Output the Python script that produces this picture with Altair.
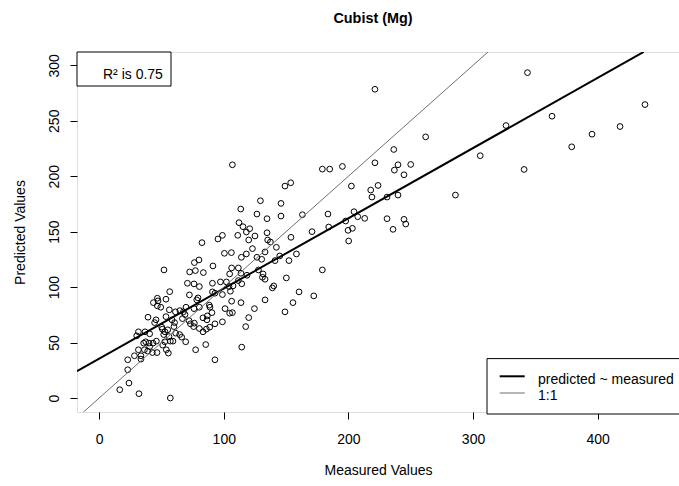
import altair as alt
import pandas as pd

# ---- data -------------------------------------------------------------
measured = [
    343.7, 363.4, 326.5, 438.0, 418.0, 395.5, 379.2, 305.8, 341.0, 221.3,
    262.0, 236.4, 179.1, 185.0, 195.2, 221.3, 236.9, 239.8, 250.0, 244.6,
    202.4, 217.9, 223.8, 218.9, 231.0, 239.8, 285.9, 163.1, 183.6, 204.5,
    207.5, 213.1, 197.8, 184.2, 170.8, 199.7, 203.2, 200.2, 231.0, 235.8,
    244.6, 246.0, 179.1, 160.4, 172.2,
    106.9, 149.1, 153.7, 129.4, 145.9, 113.6, 126.6, 134.7, 145.9, 112.2,
    115.4, 120.8, 118.1, 111.2, 120.0, 125.0, 134.7, 95.3, 98.9, 82.5,
    135.2, 137.4, 153.9, 142.2, 123.0, 118.1, 114.1, 100.5, 106.1, 126.6,
    130.4, 133.1, 144.9, 141.1, 158.3, 152.3, 91.3, 76.4, 80.1, 106.3,
    111.7, 104.7, 113.8, 127.8, 131.5, 131.0, 133.1, 150.2, 155.5, 149.1,
    140.1, 139.0, 133.1, 124.6, 120.0, 117.6, 113.8, 106.3, 98.9, 90.9,
    90.9, 97.3, 102.1, 104.2, 105.3, 114.4, 107.4, 111.7, 101.0, 104.7,
    106.9, 98.9, 118.6,
    52.0, 72.6, 77.2, 83.6, 70.8, 76.1, 80.4, 56.6, 72.4, 92.9,
    79.3, 78.3, 46.7, 47.2, 53.6, 43.5, 46.7, 49.4, 56.3, 61.2,
    64.8, 69.7, 67.6, 76.1, 80.4, 88.4, 88.9, 90.5, 86.8, 39.2,
    45.6, 44.5, 53.6, 58.4,
    68.9, 66.8, 72.1, 73.2, 76.4, 75.8, 83.3, 86.5, 92.9, 88.7,
    86.0, 31.5, 36.8, 40.5, 50.7, 52.8, 51.8, 50.2, 55.0, 56.0,
    61.4, 64.6, 66.2, 59.2, 57.1, 69.4, 83.3, 37.3, 35.7, 40.0,
    43.2, 45.9, 28.3, 31.5, 33.5, 36.3, 38.9, 42.7, 46.4, 40.5,
    53.9, 55.5, 77.4, 85.5, 114.4, 92.9, 22.9, 33.5, 22.9, 23.9,
    16.5, 31.9, 57.1, 30.1, 52.6, 51.0, 60.5, 60.0, 80.4,
]
predicted = [
    293.4, 254.1, 245.7, 264.6, 244.8, 237.9, 226.5, 218.5, 206.1, 278.4,
    235.5, 224.1, 206.4, 206.4, 208.8, 212.1, 205.5, 210.3, 210.6, 201.3,
    191.1, 187.5, 191.7, 181.2, 181.2, 183.0, 183.0, 165.3, 165.9, 168.0,
    163.5, 162.0, 159.6, 154.2, 150.0, 151.2, 153.0, 141.6, 161.7, 152.1,
    161.1, 156.9, 115.5, 95.7, 92.1,
    210.3, 191.1, 194.1, 177.9, 175.5, 170.4, 165.9, 161.7, 164.1, 158.1,
    154.5, 152.7, 149.7, 146.7, 142.5, 146.1, 149.0, 143.4, 146.7, 140.1,
    142.5, 140.7, 144.9, 135.9, 134.7, 129.9, 126.9, 130.5, 131.1, 126.9,
    125.1, 131.7, 128.1, 123.9, 129.9, 123.9, 119.1, 122.1, 124.5, 117.3,
    117.3, 111.9, 112.5, 115.5, 111.9, 108.9, 107.1, 108.3, 86.0, 77.7,
    101.1, 99.3, 88.5, 80.6, 72.5, 64.4, 86.0, 87.3, 93.3, 95.7,
    103.5, 104.7, 104.7, 100.5, 96.3, 103.0, 101.1, 105.9, 80.6, 76.5,
    77.0, 68.7, 110.7,
    115.5, 113.7, 114.9, 113.1, 103.5, 102.9, 100.5, 95.9, 93.0, 94.5,
    90.3, 88.5, 90.0, 87.6, 89.1, 86.0, 83.1, 81.9, 79.5, 77.7,
    78.8, 81.9, 77.7, 80.6, 81.9, 83.7, 81.9, 77.0, 74.1, 72.9,
    70.5, 68.0, 73.4, 70.5,
    75.3, 71.6, 69.8, 66.9, 67.5, 64.4, 72.3, 70.5, 66.9, 63.9,
    62.1, 59.7, 59.7, 57.9, 62.1, 59.7, 57.2, 63.9, 61.5, 55.4,
    58.5, 57.2, 54.9, 51.3, 51.3, 50.7, 59.7, 50.7, 49.5, 49.5,
    49.5, 51.3, 38.1, 43.5, 38.1, 43.5, 42.3, 41.0, 41.0, 46.4,
    43.5, 40.5, 43.5, 48.2, 45.9, 34.5, 34.5, 35.1, 25.5, 13.5,
    7.5, 3.9, 0.0, 56.1, 50.7, 47.7, 68.0, 64.4, 62.7,
]

# fitted line (predicted ~ measured) and 1:1 line, end points
fit_measured = [-17.8, 437.0]
fit_predicted = [24.2, 312.1]
one_to_one = [-12.6, 312.0]

x_ticks = [0, 100, 200, 300, 400]
y_ticks = [0, 50, 100, 150, 200, 250, 300]
x_domain = [-17.8, 465.3]
y_domain = [-12.6, 312.0]

series_names = ["predicted ~ measured", "1:1"]
r2_label = "R\u00b2 is 0.75"

FONT = "Liberation Sans"
W, H = 602, 360
GREY = "#6e6e6e"

pts = pd.DataFrame({"Measured": measured, "Predicted": predicted})
fit_df = pd.DataFrame({"Measured": fit_measured, "Predicted": fit_predicted})
one_df = pd.DataFrame({"Measured": one_to_one, "Predicted": one_to_one})
dummy = pd.DataFrame({"k": [0]})

xs = alt.Scale(domain=x_domain, nice=False, zero=False)
ys = alt.Scale(domain=y_domain, nice=False, zero=False)

x_axis = alt.Axis(
    values=x_ticks, title="Measured Values", grid=False, domain=False,
    tickSize=7, tickColor="black", tickWidth=1,
    labelColor="black", labelFont=FONT, labelFontSize=14, labelPadding=13,
    labelFlush=False,
    titleFont=FONT, titleFontSize=14, titleFontWeight="normal",
    titleColor="black", titlePadding=17,
)
y_axis = alt.Axis(
    values=y_ticks, title="Predicted Values", grid=False, domain=False,
    tickSize=7, tickColor="black", tickWidth=1,
    labelColor="black", labelFont=FONT, labelFontSize=14, labelPadding=9,
    labelAngle=270, labelAlign="center", labelBaseline="bottom", labelFlush=False,
    titleFont=FONT, titleFontSize=14, titleFontWeight="normal",
    titleColor="black", titlePadding=20,
)

points = alt.Chart(pts).mark_point(
    shape="circle", filled=False, size=33, strokeWidth=1, color="black",
    opacity=1, clip=True,
).encode(
    x=alt.X("Measured:Q", scale=xs, axis=x_axis),
    y=alt.Y("Predicted:Q", scale=ys, axis=y_axis),
)

fit_line = alt.Chart(fit_df).mark_line(color="black", strokeWidth=2, clip=True).encode(
    x=alt.X("Measured:Q", scale=xs), y=alt.Y("Predicted:Q", scale=ys)
)
one_line = alt.Chart(one_df).mark_line(color=GREY, strokeWidth=1, clip=True).encode(
    x=alt.X("Measured:Q", scale=xs), y=alt.Y("Predicted:Q", scale=ys)
)

# R^2 box (top left)
r2_box = alt.Chart(dummy).mark_rect(fill="white", stroke="black", strokeWidth=1).encode(
    x=alt.value(0), x2=alt.value(94), y=alt.value(0), y2=alt.value(34)
)
r2_text = alt.Chart(dummy).mark_text(
    text=r2_label, font=FONT, fontSize=14, align="left", baseline="alphabetic", color="black"
).encode(x=alt.value(26), y=alt.value(26.6))

# legend box (bottom right)
leg_box = alt.Chart(dummy).mark_rect(fill="white", stroke="black", strokeWidth=1).encode(
    x=alt.value(410), x2=alt.value(606), y=alt.value(306.6), y2=alt.value(362)
)
leg_line1 = alt.Chart(dummy).mark_rule(color="black", strokeWidth=2).encode(
    x=alt.value(422.7), x2=alt.value(447.7), y=alt.value(324.3)
)
leg_line2 = alt.Chart(dummy).mark_rule(color=GREY, strokeWidth=1).encode(
    x=alt.value(422.7), x2=alt.value(447.7), y=alt.value(341)
)
leg_text1 = alt.Chart(dummy).mark_text(
    text=series_names[0], font=FONT, fontSize=14, align="left", baseline="middle", color="black"
).encode(x=alt.value(461), y=alt.value(327.5))
leg_text2 = alt.Chart(dummy).mark_text(
    text=series_names[1], font=FONT, fontSize=14, align="left", baseline="middle", color="black"
).encode(x=alt.value(461), y=alt.value(344))

chart = alt.layer(
    points, fit_line, one_line, r2_box, r2_text,
    leg_box, leg_line1, leg_line2, leg_text1, leg_text2,
).properties(
    width=W, height=H,
    title=alt.TitleParams(
        "Cubist (Mg)", font=FONT, fontSize=14.4, fontWeight="bold", color="black",
        anchor="middle", frame="group", baseline="alphabetic", offset=14, dx=-5,
    ),
    autosize=alt.AutoSizeParams(type="none"),
    padding={"left": 77, "top": 52, "right": 0, "bottom": 74},
).configure_view(
    stroke="black", strokeWidth=1
).configure(background="white")

chart.save("out.html", embed_options={"renderer": "svg", "actions": False})
